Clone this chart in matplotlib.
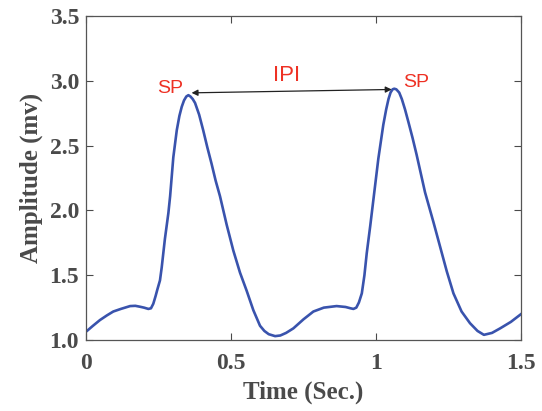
import matplotlib
matplotlib.use("Agg")
import matplotlib.pyplot as plt

# signal (time in s, amplitude in mv)
time_s = [0.0, 0.024, 0.048, 0.072, 0.094, 0.12, 0.152, 0.17, 0.186, 0.2, 0.215,
          0.224, 0.232, 0.24, 0.246, 0.255, 0.261, 0.272, 0.284, 0.29, 0.301,
          0.313, 0.322, 0.33, 0.338, 0.346, 0.353, 0.36, 0.368, 0.376, 0.39,
          0.404, 0.418, 0.433, 0.447, 0.462, 0.485, 0.508, 0.531, 0.554, 0.577,
          0.6, 0.615, 0.63, 0.652, 0.67, 0.69, 0.715, 0.75, 0.784, 0.82, 0.864,
          0.895, 0.912, 0.922, 0.932, 0.941, 0.951, 0.96, 0.968, 0.98, 0.994,
          1.008, 1.025, 1.035, 1.043, 1.05, 1.057, 1.063, 1.07, 1.08, 1.089, 1.1,
          1.112, 1.126, 1.14, 1.155, 1.169, 1.198, 1.221, 1.244, 1.267, 1.295,
          1.324, 1.35, 1.372, 1.4, 1.428, 1.465, 1.5]
amplitude = [1.064, 1.11, 1.154, 1.19, 1.22, 1.24, 1.262, 1.264, 1.257, 1.25, 1.24,
             1.245, 1.28, 1.34, 1.39, 1.46, 1.56, 1.78, 1.98, 2.11, 2.41,
             2.62, 2.73, 2.80, 2.85, 2.88, 2.89, 2.88, 2.86, 2.83, 2.74,
             2.62, 2.49, 2.36, 2.23, 2.11, 1.89, 1.69, 1.52, 1.38, 1.23,
             1.11, 1.07, 1.045, 1.03, 1.035, 1.055, 1.09, 1.16, 1.22, 1.25, 1.262,
             1.255, 1.245, 1.24, 1.25, 1.29, 1.36, 1.5, 1.67, 1.88, 2.14,
             2.40, 2.66, 2.78, 2.86, 2.91, 2.935, 2.94, 2.935, 2.91, 2.86, 2.78,
             2.68, 2.56, 2.43, 2.28, 2.14, 1.91, 1.72, 1.53, 1.36, 1.22,
             1.13, 1.07, 1.04, 1.055, 1.09, 1.14, 1.20]

peak_left = (0.364, 2.908)
peak_right = (1.054, 2.934)

x_ticks = [0, 0.5, 1, 1.5]
x_tick_labels = ["0", "0.5", "1", "1.5"]
y_ticks = [1.0, 1.5, 2.0, 2.5, 3.0, 3.5]
y_tick_labels = ["1.0", "1.5", "2.0", "2.5", "3.0", "3.5"]

grey = "#4a4a4a"
red = "#ee3124"

fig = plt.figure(figsize=(5.42, 4.11), dpi=100)
ax = fig.add_axes([0.1587, 0.1727, 0.8026, 0.788])

ax.plot(time_s, amplitude, color="#3953ad", linewidth=1.9)

ax.annotate("", xy=peak_right, xytext=peak_left,
            arrowprops=dict(arrowstyle="<|-|>", color="#222222", lw=0.9,
                            mutation_scale=9, shrinkA=0, shrinkB=0))
ax.text(0.29, 2.94, "SP", color=red, fontsize=14, family="Liberation Sans",
        ha="center", va="center")
ax.text(1.14, 2.99, "SP", color=red, fontsize=14, family="Liberation Sans",
        ha="center", va="center")
ax.text(0.692, 3.045, "IPI", color=red, fontsize=16, family="Liberation Sans",
        ha="center", va="center")

ax.set_xlim(0, 1.5)
ax.set_ylim(1.0, 3.5)
ax.set_xticks(x_ticks)
ax.set_xticklabels(x_tick_labels)
ax.set_yticks(y_ticks)
ax.set_yticklabels(y_tick_labels)

ax.tick_params(direction="in", length=5, width=0.8, color=grey,
               top=True, right=True)
ax.tick_params(axis="x", pad=9)
ax.tick_params(axis="y", pad=5)
for lab in ax.get_xticklabels() + ax.get_yticklabels():
    lab.set_family("Liberation Serif")
    lab.set_fontweight("bold")
    lab.set_fontsize(17)
    lab.set_color(grey)
for sp in ax.spines.values():
    sp.set_color("#555555")
    sp.set_linewidth(0.9)

ax.set_xlabel("Time (Sec.)", family="Liberation Serif", fontweight="bold",
              fontsize=18, color=grey, labelpad=5)
ax.set_ylabel("Amplitude (mv)", family="Liberation Serif", fontweight="bold",
              fontsize=18, color=grey, labelpad=5)

fig.savefig("out.png", dpi=100)
